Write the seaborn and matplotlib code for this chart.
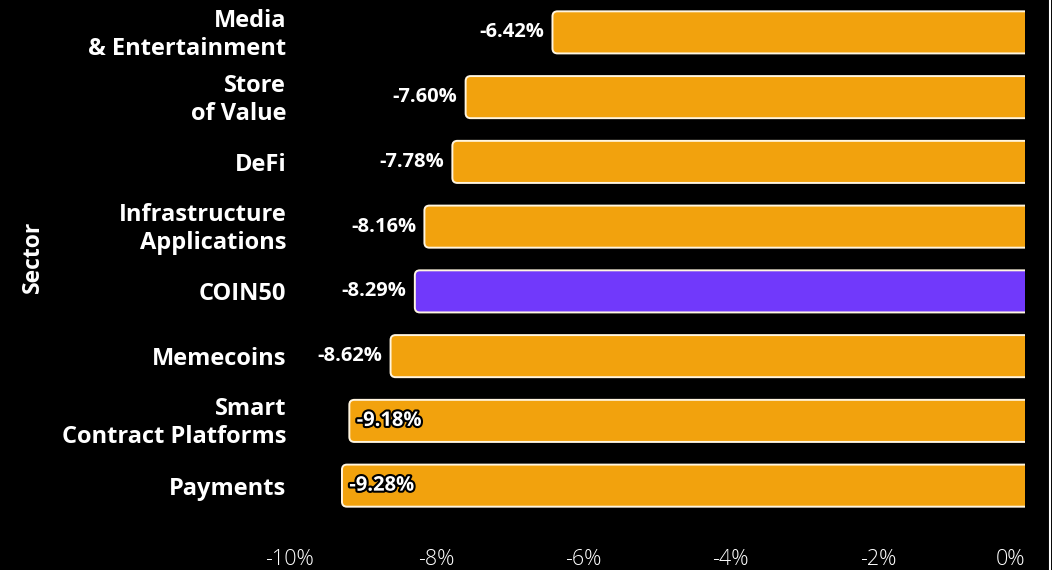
import matplotlib
matplotlib.use("Agg")
import matplotlib.pyplot as plt
import seaborn as sns
import pandas as pd
from matplotlib.patches import FancyBboxPatch
from matplotlib.ticker import FuncFormatter
from matplotlib.transforms import ScaledTranslation
import matplotlib.patheffects as pe

# dados do gráfico
setores = ["Media\n& Entertainment", "Store\nof Value", "DeFi",
           "Infrastructure\nApplications", "COIN50", "Memecoins",
           "Smart\nContract Platforms", "Payments"]
retornos = [-6.42, -7.60, -7.78, -8.16, -8.29, -8.62, -9.18, -9.28]
destaque = "COIN50"
ticks_x = [-10, -8, -6, -4, -2, 0]

LARANJA = "#F2A20D"
ROXO = "#7139FB"

df = pd.DataFrame({"Sector": setores, "Return": retornos})
cores = [ROXO if s == destaque else LARANJA for s in setores]

sns.set_theme(style="dark")
plt.rcParams["font.family"] = ["Open Sans", "DejaVu Sans"]

fig = plt.figure(figsize=(10.52, 5.70), dpi=100, facecolor="black")
ax = fig.add_axes([0.2747, 0.0912, 0.6996, 0.9088])
ax.set_facecolor("black")

sns.barplot(data=df, x="Return", y="Sector", hue="Sector", palette=cores,
            legend=False, width=0.65, ax=ax, saturation=1)

# troca os retângulos por barras arredondadas (a ponta no zero fica cortada pelo eixo)
px_x = 0.6996 * 1052 / 10
px_y = 0.9088 * 570 / len(setores)
raio = 5 / px_x
for p in list(ax.patches):
    x, y, w, h = p.get_x(), p.get_y(), p.get_width(), p.get_height()
    x0, w0 = min(x, x + w), abs(w)
    y0, h0 = min(y, y + h), abs(h)
    cor = p.get_facecolor()
    p.remove()
    barra = FancyBboxPatch((x0, y0), w0 + 0.2, h0,
                           boxstyle=f"round,pad=0,rounding_size={raio}",
                           mutation_aspect=px_x / px_y,
                           facecolor=cor, edgecolor="#FFF5E0", linewidth=1.4,
                           zorder=3)
    ax.add_patch(barra)
    barra.set_clip_path(ax.patch)

ax.set_xlim(-10, 0)
ax.set_ylim(len(setores) - 0.5, -0.5)

# rótulos de valor: fora da barra quando cabe, dentro quando não
for i, v in enumerate(retornos):
    txt = f"{v:.2f}%"
    if v > -9.0:
        ax.text(v - 0.11, i, txt, ha="right", va="center", color="white",
                fontsize=14.5, fontweight="bold", zorder=4)
    else:
        ax.text(v + 0.1, i, txt, ha="left", va="center", color="white",
                fontsize=14.5, fontweight="bold", zorder=4,
                path_effects=[pe.withStroke(linewidth=3, foreground="black")])

ax.set_xticks(ticks_x)
ax.xaxis.set_major_formatter(FuncFormatter(lambda v, _: f"{v:.0f}%"))
ax.tick_params(axis="x", colors="white", labelsize=15.5, length=0, pad=22)
ax.tick_params(axis="y", colors="white", labelsize=17, length=0, pad=2)
for lbl in ax.get_xticklabels():
    lbl.set_fontweight("light")
ultimo = ax.get_xticklabels()[-1]
ultimo.set_horizontalalignment("right")
for lbl in ax.get_yticklabels():
    lbl.set_fontweight("bold")
    lbl.set_linespacing(1.22)
    if "\n" in lbl.get_text():
        lbl.set_transform(lbl.get_transform() + ScaledTranslation(0, 0.025, fig.dpi_scale_trans))

ax.set_xlabel("")
ax.set_ylabel("Sector", color="white", fontsize=16.5, fontweight="bold", labelpad=0)
ax.yaxis.set_label_coords(-0.3315, 0.505)
ax.grid(False)
for s in ax.spines.values():
    s.set_visible(False)

# linha branca na borda direita
fig.add_artist(plt.Line2D([0.998, 0.998], [0, 1], color="white", linewidth=1.5))

plt.savefig("out.png", dpi=100, facecolor="black")
plt.close()
